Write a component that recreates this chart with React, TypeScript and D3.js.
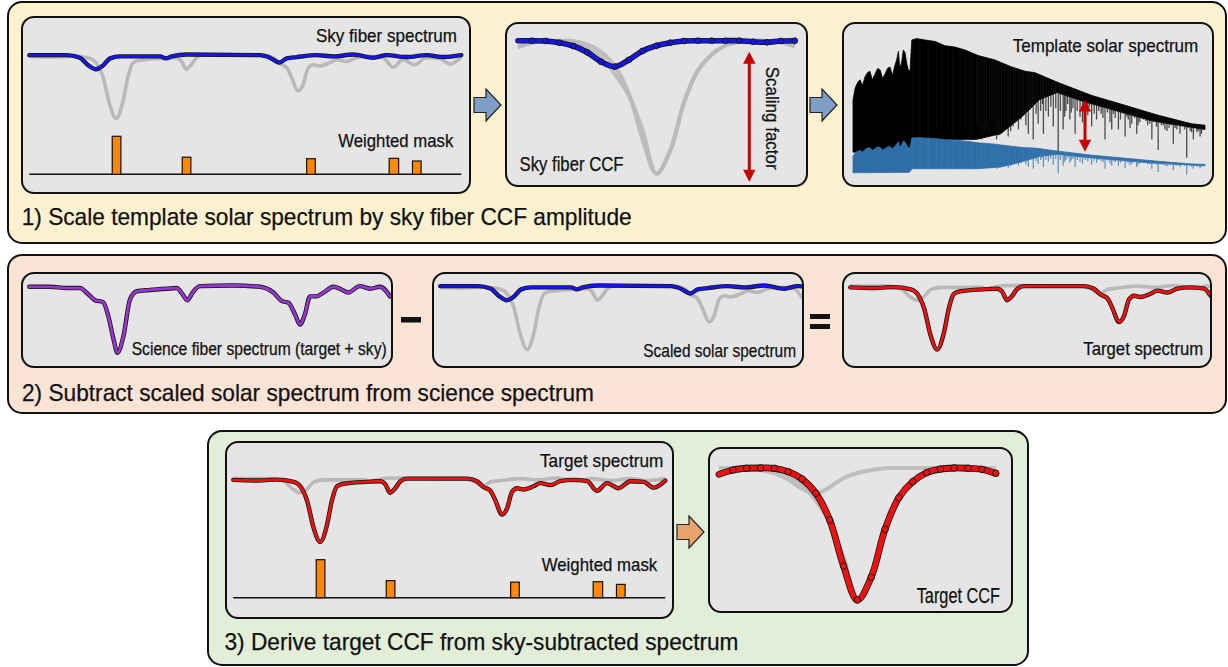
import React from "react";
import * as d3 from "d3";

// ---- spectra (w: 0-100 across the plotted span, f: 1 = continuum, 0 = deepest target line)
const targetSpectrum: [number, number][] = [
    [0, 0.97], [5, 0.96], [10, 0.975], [14, 0.94], [15.5, 0.87], [17.1, 0.64], [18.6, 0.22],
    [20.1, 0.0], [21.7, 0.27], [22.8, 0.64], [24, 0.87], [25.5, 0.91], [30.9, 0.94], [34, 0.95],
    [35.2, 0.9], [36.3, 0.77], [37.5, 0.84], [38.7, 0.95], [40.2, 0.99], [54.1, 0.99], [56.4, 0.95],
    [57.9, 0.86], [59.5, 0.8], [60.6, 0.66], [62.2, 0.43], [63.4, 0.53], [64.5, 0.78], [65.7, 0.84],
    [67.2, 0.82], [69.5, 0.87], [71.1, 0.92], [73.4, 0.89], [75.7, 0.95], [78.8, 0.97], [81.9, 0.95],
    [84.2, 0.8], [86.5, 0.92], [89.2, 0.84], [91.9, 0.95], [95, 0.94], [97.3, 0.85], [100, 0.96],
];

const skySpectrum: [number, number][] = [
    [0, 0.99], [8.7, 0.99], [11.7, 0.95], [13.7, 0.83], [15.4, 0.77], [17.1, 0.83], [18.7, 0.94],
    [21, 0.97], [30.3, 0.97], [31.6, 0.94], [33, 0.97], [36.4, 1.0], [53.4, 0.99], [55.7, 0.95],
    [57.9, 0.875], [59.6, 0.94], [61.9, 0.96], [66.5, 0.99], [70.4, 0.97], [75, 1.0], [79.6, 0.95],
    [82.7, 0.99], [87.3, 0.96], [92, 0.99], [95.8, 0.96], [100, 0.99],
];

const scienceSpectrum: [number, number][] = [
    [0, 0.98], [4.8, 0.98], [8.7, 0.96], [11.7, 0.96], [13.7, 0.86], [15.2, 0.77], [17.1, 0.74],
    [18.3, 0.52], [19.5, 0.16], [20.4, -0.05], [21.8, 0.21], [23.3, 0.78], [24.9, 0.91], [27.9, 0.93],
    [31.8, 0.95], [34.1, 0.96], [35.5, 0.86], [36.6, 0.77], [37.8, 0.89], [39.5, 0.99], [47.2, 1.0],
    [53.4, 0.98], [56.5, 0.89], [58.4, 0.76], [60, 0.73], [61.5, 0.55], [62.7, 0.39], [63.8, 0.55],
    [65, 0.83], [66.5, 0.83], [68.1, 0.89], [70.4, 0.98], [71.9, 0.95], [73.8, 0.89], [76.5, 0.99],
    [78.9, 0.95], [81.2, 0.98], [83.5, 0.83],
];

// weighted mask: [start, end, weight]
const maskLines: [number, number, number][] = [
    [19.2, 21.2, 1.0], [35.4, 37.4, 0.45], [64.2, 66.2, 0.41], [83.3, 85.5, 0.42], [88.7, 90.7, 0.35],
];

// ---- CCFs
const ccfVelocity = [0, 5, 10, 15, 20, 25, 30, 35, 40, 45, 50, 55, 60, 65, 70, 75, 80, 85, 90, 95, 100];
const skyCCF = [1.0, 1.0, 0.998, 0.985, 0.96, 0.913, 0.842, 0.805, 0.855, 0.923, 0.962, 0.985, 0.998, 1.0, 1.0, 1.0, 1.0, 0.992, 0.988, 0.998, 1.0];
const targetCCF = [0.952, 0.985, 0.998, 1.0, 0.998, 0.972, 0.917, 0.808, 0.606, 0.258, 0.0, 0.172, 0.536, 0.775, 0.896, 0.964, 0.992, 1.0, 0.998, 0.99, 0.96];
const scienceCCF = [0.952, 0.985, 0.998, 0.995, 0.985, 0.947, 0.875, 0.75, 0.59, 0.33, 0.0, 0.172, 0.536, 0.775, 0.896, 0.964, 0.992, 1.0, 0.998, 0.99, 0.96];

// ---- template solar spectrum (t: 0-100, f relative to peak)
const templateContinuum: [number, number][] = [
    [0, 0.58], [0.6, 0.66], [1.3, 0.7], [2, 0.72], [2.7, 0.68], [3.4, 0.74], [4.1, 0.77], [4.8, 0.78],
    [5.5, 0.72], [6.25, 0.76], [7, 0.8], [7.7, 0.79], [8.4, 0.73], [9.1, 0.76], [9.8, 0.8], [10.5, 0.81],
    [11.2, 0.75], [11.9, 0.82], [12.4, 0.86], [12.9, 0.92], [13.3, 0.8], [13.8, 0.84], [14.3, 0.93],
    [14.8, 0.91], [15.3, 0.83], [15.7, 0.79], [16.2, 0.78], [16.7, 1.0], [18.1, 1.01], [20.5, 1.0],
    [23.3, 0.99], [26.1, 0.96], [29, 0.95], [31.8, 0.93], [35.6, 0.89], [40.3, 0.86], [45.1, 0.81],
    [48.9, 0.78], [51.7, 0.77], [58.3, 0.7], [67.8, 0.61], [77.3, 0.54], [86.7, 0.47], [96.2, 0.41],
    [100, 0.4],
];
const templateFloor: [number, number][] = [
    [0, 0.21], [16, 0.22], [16.8, 0.3], [35, 0.3], [42, 0.34], [48, 0.46], [53, 0.58], [58, 0.63],
    [65, 0.57], [75, 0.5], [85, 0.43], [100, 0.37],
];
const templateLines: [number, number][] = [
    [17.1, 0.3], [19.0, 0.3], [21.4, 0.3], [23.8, 0.37], [25.2, 0.39], [27.1, 0.37], [28.5, 0.3],
    [30.4, 0.37], [31.8, 0.39], [33.2, 0.3], [34, 0.33], [35.1, 0.41], [35.8, 0.36], [36.6, 0.3],
    [37.3, 0.34], [38.0, 0.37], [38.7, 0.33], [39.4, 0.41], [40.1, 0.36], [40.8, 0.3], [41.5, 0.33],
    [42.2, 0.37], [43, 0.4], [44.1, 0.32], [44.8, 0.36], [45.5, 0.39], [46.2, 0.42], [47.0, 0.37],
    [47.7, 0.44], [48.4, 0.48], [49.1, 0.4], [49.8, 0.34], [50.3, 0.51], [50.9, 0.55], [51.2, 0.3],
    [52, 0.48], [52.6, 0.41], [53.3, 0.5], [53.8, 0.55], [54.1, 0.34], [54.8, 0.5], [55.5, 0.46],
    [56.2, 0.53], [56.9, 0.39], [57.6, 0.52], [58.3, 0.2], [58.9, 0.5], [59.7, 0.37], [60.1, 0.46],
    [60.5, 0.5], [61, 0.55], [61.6, 0.44], [62, 0.49], [62.5, 0.52], [63.1, 0.34], [63.7, 0.5],
    [64.5, 0.46], [65.2, 0.42], [66, 0.5], [66.7, 0.47], [67.2, 0.53], [67.8, 0.39], [68.5, 0.48],
    [69.2, 0.44], [69.8, 0.5], [70.5, 0.48], [71, 0.45], [71.6, 0.3], [72.3, 0.49], [73, 0.42],
    [73.5, 0.37], [74, 0.48], [74.5, 0.45], [75.4, 0.37], [76, 0.44], [76.7, 0.48], [77.3, 0.32],
    [77.8, 0.46], [78.2, 0.44], [78.7, 0.38], [79.2, 0.41], [80, 0.45], [80.6, 0.34], [81, 0.4],
    [81.5, 0.42], [82, 0.46], [82.5, 0.44], [83.2, 0.43], [83.7, 0.4], [84.3, 0.41], [84.9, 0.3],
    [85.6, 0.43], [86.2, 0.39], [86.7, 0.225], [87.1, 0.42], [87.6, 0.4], [88.1, 0.4], [88.6, 0.37],
    [89.2, 0.36], [89.8, 0.38], [90.4, 0.4], [91.0, 0.27], [91.5, 0.38], [92, 0.37], [92.9, 0.34],
    [93.5, 0.39], [94.2, 0.37], [94.8, 0.17], [95.2, 0.38], [95.8, 0.36], [96.2, 0.35], [96.7, 0.3],
    [97.2, 0.38], [97.7, 0.35], [98.1, 0.36], [98.6, 0.32], [99, 0.34], [99.5, 0.37],
];
const skyScale = 0.31; // scaled (blue) template relative to the template

const FONT = "'Liberation Sans', Arial, Helvetica, sans-serif";
const GRAY = "#b9b9b9";
const BLUE = "#1616e6";
const RED = "#ee1111";
const PURPLE = "#9a35d0";

type Box = { x: number; y: number; w: number; h: number };
type Pt = [number, number];

const Label = ({ text, x, y, len, size, transform }: any) => (
    <text x={x} y={y} fontSize={size} fontFamily={FONT} fill="#111" stroke="#111" strokeWidth={0.25}
        textLength={len} lengthAdjust="spacingAndGlyphs" transform={transform}>{text}</text>
);

const InnerBox = ({ id, box }: { id: string; box: Box }) => (
    <>
        <defs>
            <clipPath id={id}>
                <rect x={box.x + 1} y={box.y + 1} width={box.w - 2} height={box.h - 2} rx={11} />
            </clipPath>
        </defs>
        <rect x={box.x} y={box.y} width={box.w} height={box.h} rx={12} fill="#e5e5e5" stroke="#111" strokeWidth={2} />
    </>
);

const Outlined = ({ d, color, width }: { d: string; color: string; width: number }) => (
    <g fill="none" strokeLinejoin="round" strokeLinecap="round">
        <path d={d} stroke="#151515" strokeWidth={width + 1.6} />
        <path d={d} stroke={color} strokeWidth={width} />
    </g>
);

function SpecPanel({ id, box, wMax, span, base, back, front, color, maskBase }: {
    id: string; box: Box; wMax: number; span: number; base: number; back: Pt[]; front: Pt[];
    color: string; maskBase?: number;
}) {
    const x = d3.scaleLinear().domain([0, wMax]).range([box.x + 7.3, box.x + 7.3 + span]);
    const y = d3.scaleLinear().domain([0, 1]).range([base + 64, base]);
    const line = d3.line<Pt>().x((d) => x(d[0])).y((d) => y(d[1])).curve(d3.curveMonotoneX);
    const wt = d3.scaleLinear().domain([0, 1]).range([0, 38]);
    return (
        <g>
            <InnerBox id={id} box={box} />
            <g clipPath={`url(#${id})`}>
                <path d={line(back) || ""} fill="none" stroke={GRAY} strokeWidth={3.6} strokeLinejoin="round" />
                <Outlined d={line(front) || ""} color={color} width={2.8} />
                {maskBase !== undefined && (
                    <g>
                        <line x1={x(0)} x2={x(100)} y1={maskBase} y2={maskBase} stroke="#111" strokeWidth={1.6} />
                        {maskLines.map(([a, b, w], i) => (
                            <rect key={i} x={x(a)} y={maskBase - wt(w)} width={x(b) - x(a)} height={wt(w)}
                                fill="#ff8800" stroke="#111" strokeWidth={1.2} />
                        ))}
                    </g>
                )}
            </g>
        </g>
    );
}

function CCFPanel({ id, box, x0, base, depth, back, front, color }: {
    id: string; box: Box; x0: number; base: number; depth: number; back: number[][]; front: number[]; color: string;
}) {
    const x = d3.scaleLinear().domain([0, 100]).range([x0, x0 + 276.7]);
    const y = d3.scaleLinear().domain([0, 1]).range([base + depth, base]);
    const line = d3.line<Pt>().x((d) => x(d[0])).y((d) => y(d[1])).curve(d3.curveCatmullRom.alpha(0.5));
    const pts = (vals: number[]) => ccfVelocity.map((v, i) => [v, vals[i]] as Pt);
    const main = pts(front);
    const isRed = color === RED;
    return (
        <g>
            <InnerBox id={id} box={box} />
            <g clipPath={`url(#${id})`}>
                {back.map((b, i) => (
                    <path key={i} d={line(pts(b)) || ""} fill="none" stroke={GRAY} strokeWidth={4} opacity={0.9} />
                ))}
                <Outlined d={line(main) || ""} color={color} width={isRed ? 5.2 : 4} />
                {main.slice(1).map((d, i) => (
                    <circle key={i} cx={x(d[0])} cy={y(d[1])} r={isRed ? 3.3 : 2.9} fill={color} stroke="#151515" strokeWidth={0.9} />
                ))}
            </g>
        </g>
    );
}

function TemplatePanel({ id, box }: { id: string; box: Box }) {
    const x = d3.scaleLinear().domain([0, 100]).range([853, 1205]);
    const y = d3.scaleLinear().domain([0, 1]).range([182, 40]);
    const yb = d3.scaleLinear().domain([0, 1 / skyScale]).range([182, 40]);
    const cont = d3.scaleLinear().domain(templateContinuum.map((d) => d[0])).range(templateContinuum.map((d) => d[1]));
    const poly = [...templateContinuum, ...[...templateFloor].reverse()];
    const shape = (ys: d3.ScaleLinear<number, number>) =>
        d3.line<Pt>().x((d) => x(d[0])).y((d) => ys(d[1])).curve(d3.curveLinearClosed)(poly) || "";
    return (
        <g>
            <InnerBox id={id} box={box} />
            <g clipPath={`url(#${id})`}>
                <path d={shape(y)} fill="#000" stroke="#000" strokeWidth={0.8} />
                {templateLines.map(([t, f], i) => (
                    <line key={i} x1={x(t)} x2={x(t)} y1={y(cont(t))} y2={y(f)} stroke="#111" strokeWidth={1.3} opacity={0.72} />
                ))}
                <path d={shape(yb)} fill="#2e6da6" stroke="#2e6da6" strokeWidth={0.8} />
                {templateLines.map(([t, f], i) => (
                    <line key={i} x1={x(t)} x2={x(t)} y1={yb(cont(t))} y2={yb(f)} stroke="#3a79b3" strokeWidth={1.2} opacity={0.8} />
                ))}
            </g>
        </g>
    );
}

const DoubleArrow = ({ x, y1, y2 }: { x: number; y1: number; y2: number }) => (
    <g fill="#c40000" stroke="none">
        <rect x={x - 1.5} y={y1 + 10} width={3} height={y2 - y1 - 20} />
        <path d={`M${x},${y1} L${x + 6.2},${y1 + 12} L${x - 6.2},${y1 + 12} Z`} />
        <path d={`M${x},${y2} L${x + 6.2},${y2 - 12} L${x - 6.2},${y2 - 12} Z`} />
    </g>
);

const BlockArrow = ({ x0, cy, fill }: { x0: number; cy: number; fill: string }) => (
    <path d={`M${x0},${cy - 7.5} H${x0 + 12} V${cy - 16} L${x0 + 27},${cy} L${x0 + 12},${cy + 16} V${cy + 7.5} H${x0} Z`}
        fill={fill} stroke="#222" strokeWidth={1.2} strokeLinejoin="miter" />
);

export default function App() {
    return (
        <svg width={1228} height={667} style={{ position: "absolute", left: 0, top: 0, background: "#fff" }}>
            {/* outer panels */}
            <rect x={8} y={2} width={1218} height={241} rx={14} fill="#fdf1cf" stroke="#111" strokeWidth={2} />
            <rect x={8} y={255} width={1218} height={158} rx={14} fill="#fbe3d5" stroke="#111" strokeWidth={2} />
            <rect x={208} y={431} width={820} height={234} rx={14} fill="#e2eed8" stroke="#111" strokeWidth={2} />

            {/* row 1 */}
            <SpecPanel id="c1" box={{ x: 22, y: 17, w: 448, h: 176 }} wMax={100} span={432} base={54.5}
                back={targetSpectrum} front={skySpectrum} color={BLUE} maskBase={174.3} />
            <Label text="Sky fiber spectrum" x={316} y={41.7} len={141} size={19} />
            <Label text="Weighted mask" x={338.3} y={146.7} len={115} size={19} />

            <CCFPanel id="c2" box={{ x: 506, y: 23, w: 301, h: 163 }} x0={518} base={40.7} depth={133}
                back={[scienceCCF, targetCCF]} front={skyCCF} color={BLUE} />
            <Label text="Sky fiber CCF" x={519.5} y={171} len={104} size={21} />
            <DoubleArrow x={749.3} y1={51.7} y2={181.7} />
            <Label text="Scaling factor" x={0} y={0} len={103} size={19} transform="translate(765.5,66.7) rotate(90)" />

            <TemplatePanel id="c3" box={{ x: 843, y: 23, w: 370, h: 163 }} />
            <Label text="Template solar spectrum" x={1012.7} y={52.3} len={185.6} size={19} />
            <DoubleArrow x={1085} y1={99.5} y2={151.7} />

            <BlockArrow x0={474} cy={105} fill="#7f9fc7" />
            <BlockArrow x0={810} cy={105} fill="#7f9fc7" />
            <Label text="1) Scale template solar spectrum by sky fiber CCF amplitude" x={21.7} y={224.5} len={610} size={24} />

            {/* row 2 */}
            <SpecPanel id="c4" box={{ x: 22, y: 273, w: 370, h: 94 }} wMax={83.5} span={360.7} base={285.5}
                back={[]} front={scienceSpectrum} color={PURPLE} />
            <Label text="Science fiber spectrum (target + sky)" x={131.7} y={355} len={255} size={18} />
            <rect x={401} y={317} width={20} height={5.5} fill="#111" />

            <SpecPanel id="c5" box={{ x: 433, y: 273, w: 370, h: 94 }} wMax={83.5} span={360.7} base={285.5}
                back={targetSpectrum} front={skySpectrum} color={BLUE} />
            <Label text="Scaled solar spectrum" x={643.3} y={356.7} len={152.7} size={18.5} />
            <rect x={810} y={314} width={20} height={5} fill="#111" />
            <rect x={810} y={324} width={20} height={5} fill="#111" />

            <SpecPanel id="c6" box={{ x: 843, y: 273, w: 368, h: 94 }} wMax={83.5} span={360.7} base={285.5}
                back={skySpectrum} front={targetSpectrum} color={RED} />
            <Label text="Target spectrum" x={1083.3} y={355} len={120} size={19} />
            <Label text="2) Subtract scaled solar spectrum from science spectrum" x={22} y={401} len={572} size={24} />

            {/* row 3 */}
            <SpecPanel id="c7" box={{ x: 226, y: 442, w: 447, h: 176 }} wMax={100} span={432} base={478}
                back={skySpectrum} front={targetSpectrum} color={RED} maskBase={597.7} />
            <Label text="Target spectrum" x={540} y={466.7} len={123.3} size={19} />
            <Label text="Weighted mask" x={541.7} y={570.7} len={115.6} size={19} />

            <BlockArrow x0={677} cy={532} fill="#e9a46e" />

            <CCFPanel id="c8" box={{ x: 709, y: 448, w: 303, h: 164 }} x0={719} base={468} depth={132}
                back={[skyCCF, scienceCCF]} front={targetCCF} color={RED} />
            <Label text="Target CCF" x={916.7} y={602.7} len={83.3} size={21.5} />
            <Label text="3) Derive target CCF from sky-subtracted spectrum" x={224.5} y={649.5} len={514} size={24} />
        </svg>
    );
}
